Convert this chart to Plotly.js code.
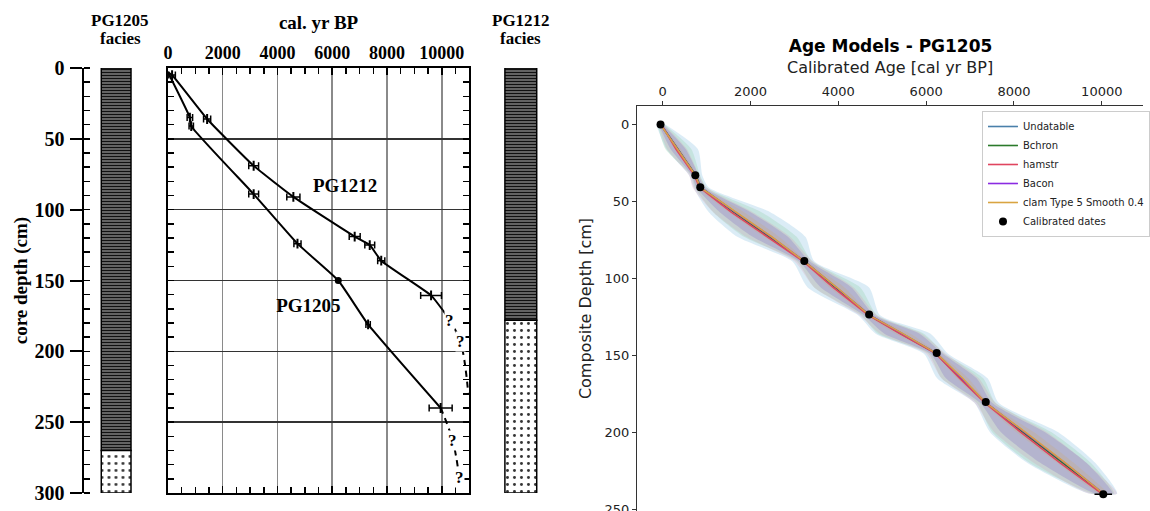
<!DOCTYPE html>
<html><head><meta charset="utf-8">
<script src="https://cdn.plot.ly/plotly-3.0.1.min.js"></script>
<style>html,body{margin:0;padding:0;background:#fff}#chart{width:1150px;height:511px}</style>
</head><body><div id="chart"></div>
<script>
// ---------------- Facies columns ----------------
const faciesTypes = ['laminated', 'massive'];
const pg1205FaciesTop = [0, 270];
const pg1205FaciesBottom = [270, 300];
const pg1212FaciesTop = [0, 178];
const pg1212FaciesBottom = [178, 300];

// ---------------- Left age-depth plot (cal. yr BP) ----------------
const pg1205LineAge = [0, 800, 850, 3130, 4730, 6220, 7310, 9960];
const pg1205LineDepth = [3, 35, 41, 89, 124, 150, 181, 240];
const pg1205DateAge = [800, 850, 3130, 4730, 7310, 9960];
const pg1205DateDepth = [35, 41, 89, 124, 181, 240];
const pg1205DateErr = [100, 80, 180, 130, 80, 420];
const pg1205DotAge = [6220];
const pg1205DotDepth = [150];
const pg1205ExtAge = [9960, 10400, 10640];
const pg1205ExtDepth = [240, 263, 289];

const pg1212LineAge = [0, 150, 1430, 3130, 4580, 6820, 7370, 7790, 9610, 10040];
const pg1212LineDepth = [3, 5, 36, 69, 91, 119, 125, 136, 160.5, 171];
const pg1212DateAge = [150, 1430, 3130, 4580, 6820, 7370, 7790, 9610];
const pg1212DateDepth = [5, 36, 69, 91, 119, 125, 136, 160.5];
const pg1212DateErr = [120, 130, 180, 240, 200, 180, 130, 380];
const pg1212ExtAge = [10040, 10280, 10680, 10970];
const pg1212ExtDepth = [171, 178, 193, 230];

const questionAge = [10280, 10680, 10400, 10640];
const questionDepth = [178, 193, 263, 289];
const curveLabels = ['PG1212', 'PG1205'];
const curveLabelAge = [6470, 5130];
const curveLabelDepth = [84, 169];

// ---------------- Right: Age Models - PG1205 ----------------
const modelNames = ['Undatable', 'Bchron', 'hamstr', 'Bacon', 'clam Type 5 Smooth 0.4'];
const modelDepth = [0, 16, 33, 41, 57, 73, 89, 106, 124, 136, 149, 165, 181, 200, 220, 240];
const undatableAge = [-50, 330, 742, 860, 1640, 2440, 3224, 3950, 4701, 5450, 6240, 6800, 7357, 8230, 9130, 10034];
const undatableLo  = [-150, 80, 600, 700, 1050, 1700, 2950, 3300, 4450, 4850, 5950, 6250, 7100, 7450, 8300, 9700];
const undatableHi  = [60, 800, 900, 1050, 2450, 3250, 3450, 4700, 4950, 6100, 6500, 7400, 7650, 9000, 9850, 10350];
const bchronAge = [-40, 350, 750, 870, 1620, 2410, 3230, 3930, 4710, 5420, 6230, 6780, 7360, 8200, 9100, 10020];
const bchronLo  = [-120, 60, 640, 730, 1150, 1850, 3050, 3450, 4520, 4900, 6050, 6350, 7150, 7500, 8350, 9780];
const bchronHi  = [40, 650, 850, 1000, 2250, 3050, 3400, 4500, 4880, 5950, 6420, 7300, 7580, 8850, 9750, 10280];
const hamstrAge = [-30, 300, 720, 840, 1560, 2380, 3200, 3880, 4680, 5400, 6220, 6760, 7340, 8150, 9050, 10000];
const hamstrLo  = [-100, 100, 600, 680, 1150, 1900, 3000, 3450, 4480, 4950, 6000, 6350, 7100, 7550, 8450, 9700];
const hamstrHi  = [30, 550, 830, 1000, 2050, 2900, 3420, 4350, 4880, 5900, 6450, 7200, 7580, 8750, 9650, 10350];
const baconAge = [-45, 340, 745, 860, 1650, 2470, 3230, 3960, 4710, 5460, 6245, 6810, 7365, 8240, 9160, 10040];
const baconLo  = [-90, 180, 660, 770, 1300, 2050, 3100, 3600, 4580, 5050, 6100, 6450, 7230, 7700, 8600, 9850];
const baconHi  = [0, 520, 820, 950, 2000, 2850, 3350, 4300, 4820, 5850, 6380, 7150, 7500, 8700, 9650, 10250];
const clamAge = [-50, 340, 742, 855, 1680, 2480, 3224, 3970, 4701, 5470, 6240, 6830, 7357, 8260, 9170, 10034];
const clamLo  = [-70, 270, 700, 800, 1500, 2300, 3160, 3800, 4640, 5300, 6180, 6700, 7300, 8050, 8980, 9940];
const clamHi  = [-30, 410, 785, 910, 1850, 2650, 3290, 4140, 4760, 5640, 6300, 6960, 7420, 8450, 9360, 10130];

const calAge = [-50, 742, 855, 3224, 4701, 6240, 7357, 10034];
const calDepth = [0, 33, 40.8, 88.7, 123.5, 148.5, 180.4, 240.4];
const calErr = [30, 40, 40, 60, 50, 50, 60, 200];

// ---------------- styles ----------------
const W = 1150, H = 511;
const px = v => v / W;
const py = v => 1 - v / H;
const serif = 'Liberation Serif, Times New Roman, serif';
const sans = 'DejaVu Sans, sans-serif';
const lineColors = ['#4a80aa', '#2b7a2b', '#e0455f', '#8b2be2', '#d9a441'];
const fillColors = ['rgba(150,200,230,0.34)', 'rgba(130,200,150,0.24)', 'rgba(220,120,150,0.17)',
                    'rgba(110,80,190,0.22)', 'rgba(210,170,100,0.22)'];
const models = [
  [undatableAge, undatableLo, undatableHi],
  [bchronAge, bchronLo, bchronHi],
  [hamstrAge, hamstrLo, hamstrHi],
  [baconAge, baconLo, baconHi],
  [clamAge, clamLo, clamHi]
];

const faciesPattern = {
  shape: ['-', '.'],
  bgcolor: ['#747474', 'white'],
  fgcolor: ['#111111', '#333'],
  size: [3, 7],
  solidity: [0.45, 0.14]
};

const traces = [];
function faciesTrace(top, bottom, xa, ya, xc, w) {
  return {
    type: 'bar', x: top.map(() => xc), y: bottom.map((b, i) => b - top[i]), base: top,
    width: w, xaxis: xa, yaxis: ya, showlegend: false, hoverinfo: 'skip',
    text: faciesTypes, textposition: 'none',
    marker: { pattern: faciesPattern, line: { color: 'black', width: 1.5 } }
  };
}
traces.push(faciesTrace(pg1205FaciesTop, pg1205FaciesBottom, 'x', 'y', 0.49, 0.46));
traces.push(faciesTrace(pg1212FaciesTop, pg1212FaciesBottom, 'x3', 'y3', 0.5, 0.667));

const blk = { color: 'black', width: 2 };
traces.push({ x: pg1212LineAge, y: pg1212LineDepth, xaxis: 'x2', yaxis: 'y2', mode: 'lines',
  line: Object.assign({ shape: 'spline', smoothing: 0.4 }, blk), showlegend: false, hoverinfo: 'skip' });
traces.push({ x: pg1205LineAge, y: pg1205LineDepth, xaxis: 'x2', yaxis: 'y2', mode: 'lines',
  line: Object.assign({ shape: 'spline', smoothing: 0.4 }, blk), showlegend: false, hoverinfo: 'skip' });
traces.push({ x: pg1212ExtAge, y: pg1212ExtDepth, xaxis: 'x2', yaxis: 'y2', mode: 'lines',
  line: { color: 'black', width: 2, dash: '6px,5px', shape: 'spline' }, showlegend: false, hoverinfo: 'skip' });
traces.push({ x: pg1205ExtAge, y: pg1205ExtDepth, xaxis: 'x2', yaxis: 'y2', mode: 'lines',
  line: { color: 'black', width: 2, dash: '6px,5px', shape: 'spline' }, showlegend: false, hoverinfo: 'skip' });
function dateTrace(ax, dp, er) {
  return { x: ax, y: dp, xaxis: 'x2', yaxis: 'y2', mode: 'markers', showlegend: false, hoverinfo: 'skip',
    marker: { symbol: 'line-ns', size: 7, line: { color: 'black', width: 2 }, color: 'black' },
    error_x: { type: 'data', array: er, visible: true, color: 'black', thickness: 1.5, width: 3.5 } };
}
traces.push(dateTrace(pg1205DateAge, pg1205DateDepth, pg1205DateErr));
traces.push(dateTrace(pg1212DateAge, pg1212DateDepth, pg1212DateErr));
traces.push({ x: pg1205DotAge, y: pg1205DotDepth, xaxis: 'x2', yaxis: 'y2', mode: 'markers', showlegend: false,
  hoverinfo: 'skip', marker: { symbol: 'circle', size: 7, color: 'black' } });
traces.push({ x: curveLabelAge, y: curveLabelDepth, text: curveLabels, xaxis: 'x2', yaxis: 'y2', mode: 'text',
  showlegend: false, hoverinfo: 'skip',
  textfont: { family: serif, size: 19, color: 'black', weight: 'bold' } });

models.forEach((m, i) => {
  traces.push({
    x: m[1].concat(m[2].slice().reverse()),
    y: modelDepth.concat(modelDepth.slice().reverse()),
    xaxis: 'x4', yaxis: 'y4', mode: 'lines', fill: 'toself', fillcolor: fillColors[i],
    line: { width: 0, shape: 'spline', smoothing: 0.6 }, showlegend: false, hoverinfo: 'skip'
  });
});
models.forEach((m, i) => {
  traces.push({
    x: m[0], y: modelDepth, xaxis: 'x4', yaxis: 'y4', mode: 'lines', name: modelNames[i],
    line: { color: lineColors[i], width: 1.6 }, legendrank: i + 1
  });
});
traces.push({ x: calAge, y: calDepth, xaxis: 'x4', yaxis: 'y4', mode: 'markers', name: 'Calibrated dates',
  marker: { color: 'black', size: 8 }, legendrank: 6,
  error_x: { type: 'data', array: calErr, visible: true, color: 'black', thickness: 1.5, width: 0 } });

const questionAnnotations = questionAge.map((a, i) => ({
  x: a, y: questionDepth[i], xref: 'x2', yref: 'y2', text: '<b>?</b>', showarrow: false,
  font: { family: serif, size: 17, color: 'black' }, bgcolor: 'white', borderpad: 0
}));

function headAnn(text, x, y) {
  return { text: '<b>' + text + '</b>', x: px(x), y: py(y), xref: 'paper', yref: 'paper', showarrow: false,
    xanchor: 'center', yanchor: 'middle', font: { family: serif, size: 17, color: 'black' } };
}

const colDomainY = [py(493), py(68)];
const layout = {
  width: W, height: H, margin: { l: 0, r: 0, t: 0, b: 0 },
  paper_bgcolor: 'white', plot_bgcolor: 'rgba(0,0,0,0)', barmode: 'overlay',
  font: { family: sans, color: '#222' },
  title: { text: '<b>Age Models - PG1205</b>', x: px(896), xanchor: 'center', xref: 'paper',
    y: py(46), yanchor: 'middle', yref: 'paper', font: { family: sans, size: 17, color: 'black' } },
  xaxis: { domain: [px(85), px(150)], range: [0, 1], visible: false, fixedrange: true },
  yaxis: { domain: colDomainY, range: [300, 0], anchor: 'x', showline: true, linewidth: 2, linecolor: 'black',
    ticks: 'outside', ticklen: 12, tickwidth: 2, tickcolor: 'black', tick0: 0, dtick: 50, showgrid: false,
    zeroline: false, ticklabelstandoff: 2,
    tickfont: { family: serif, size: 20, color: 'black', weight: 'bold' },
    minor: { dtick: 10, ticks: 'inside', ticklen: 6, tickwidth: 1.5, tickcolor: 'black', showgrid: false },
    title: { text: '<b>core depth</b> (cm)', standoff: 2, font: { family: serif, size: 19, color: 'black', weight: 'bold' } } },
  xaxis2: { domain: [px(169), px(472)], anchor: 'y2', side: 'top', range: [0, 11000], tick0: 0, dtick: 2000,
    tickformat: 'd',
    showline: true, linewidth: 2, linecolor: 'black', mirror: 'all', ticks: 'inside', ticklen: 7, tickwidth: 1.5,
    tickcolor: 'black', showgrid: true, gridcolor: '#8a8a8a', gridwidth: 1.5, zeroline: false,
    ticklabelstandoff: 0,
    tickfont: { family: serif, size: 18, color: 'black', weight: 'bold' },
    minor: { dtick: 500, ticks: 'inside', ticklen: 6, tickwidth: 1.5, tickcolor: 'black', showgrid: false },
    title: { text: '<b>cal. yr BP</b>', standoff: 8, font: { family: serif, size: 19, color: 'black' } } },
  yaxis2: { domain: colDomainY, anchor: 'x2', range: [300, 0], tick0: 0, dtick: 50, showticklabels: false,
    showline: true, linewidth: 2, linecolor: 'black', mirror: 'all', ticks: 'inside', ticklen: 6, tickwidth: 1.5,
    tickcolor: 'black', showgrid: true, gridcolor: '#333', gridwidth: 1.5, zeroline: false,
    minor: { dtick: 10, ticks: 'inside', ticklen: 6, tickwidth: 1.5, tickcolor: 'black', showgrid: false } },
  xaxis3: { domain: [px(500), px(548)], anchor: 'y3', range: [0, 1], visible: false, fixedrange: true },
  yaxis3: { domain: colDomainY, anchor: 'x3', range: [300, 0], visible: false },
  xaxis4: { domain: [px(641), 1], anchor: 'y4', side: 'top', range: [-584, 10939], tick0: 0, dtick: 2000,
    tickformat: 'd',
    showline: true, linewidth: 1.2, linecolor: '#333', mirror: false, ticks: 'outside', ticklen: 4,
    tickcolor: '#333', showgrid: false, zeroline: false,
    tickfont: { family: sans, size: 13, color: '#222' },
    title: { text: 'Calibrated Age [cal yr BP]', standoff: 6, font: { family: sans, size: 16, color: '#222' } } },
  yaxis4: { domain: [0, py(106)], anchor: 'x4', range: [251.3, -12], tick0: 0, dtick: 50,
    showline: true, linewidth: 1.2, linecolor: '#333', mirror: false, ticks: 'outside', ticklen: 4,
    tickcolor: '#333', showgrid: false, zeroline: false, ticklabeloverflow: 'allow',
    tickfont: { family: sans, size: 13, color: '#222' },
    title: { text: 'Composite Depth [cm]', standoff: 8, font: { family: sans, size: 16, color: '#222' } } },
  legend: { x: px(988), y: py(111), xanchor: 'left', yanchor: 'top', bgcolor: 'rgba(255,255,255,0.85)',
    bordercolor: '#ccc', borderwidth: 1, font: { family: sans, size: 10, color: '#222' },
    tracegroupgap: 0, itemwidth: 30 },
  annotations: questionAnnotations.concat([
    headAnn('PG1205', 121, 21), headAnn('facies', 121, 38),
    headAnn('PG1212', 524, 21), headAnn('facies', 524, 38)
  ])
};

Plotly.newPlot('chart', traces, layout, { displayModeBar: false, staticPlot: true });
</script>
</body></html>
